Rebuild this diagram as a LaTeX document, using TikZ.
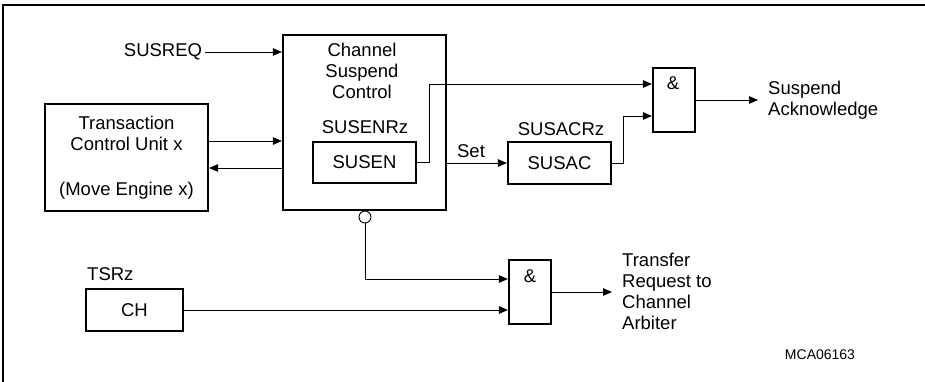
\documentclass[tikz,border=0pt]{standalone}
\usepackage{fontspec}
\setmainfont{Liberation Sans}
\usetikzlibrary{arrows.meta}
\begin{document}
\begin{tikzpicture}[x=1pt,y=-1pt,
  every node/.style={font=\fontsize{18.5}{21}\selectfont, inner sep=0pt},
  blk/.style={draw, line width=2.2pt, rectangle, inner sep=0pt},
  gate/.style={blk, minimum width=42pt, minimum height=64pt},
  wire/.style={line width=0.9pt},
  arr/.style={wire, -{Triangle[length=9pt,width=7.5pt]}},
  lbl/.style={align=left, anchor=west}]
\useasboundingbox (0,0) rectangle (925,382);
\draw[line width=1.2pt] (3,382) -- (3,5) -- (925,5);

\node (susreq) at (163,52) {SUSREQ};
\node[blk, minimum width=163pt, minimum height=175pt] (csc) at (364.5,122.5) {};
\node[align=center] (csctxt) at (362,71) {Channel\\Suspend\\Control};
\node (susenrz) at (365,127) {SUSENRz};
\node[blk, minimum width=103pt, minimum height=41pt] (susen) at (364.5,162.5) {SUSEN};
\node[blk, minimum width=163pt, minimum height=107pt, align=center] (tcu) at (126.5,157.5) {Transaction\\Control Unit x\\[24pt](Move Engine x)};
\node (susacrz) at (561,129) {SUSACRz};
\node[blk, minimum width=103pt, minimum height=42pt] (susac) at (559.5,163) {SUSAC};
\node[gate] (and1) at (674,100) {};
\node (and1l) at (673,83) {\&};
\node[lbl] (ack) at (768,100) {Suspend\\Acknowledge};
\node[draw, circle, minimum size=12pt, line width=0.9pt] (inv) at (365,217) {};
\node[anchor=west] (tsrz) at (87,274) {TSRz};
\node[blk, minimum width=97pt, minimum height=42pt] (ch) at (134.5,310) {CH};
\node[gate] (and2) at (530,292) {};
\node (and2l) at (530,276) {\&};
\node[lbl] (req) at (622,291.5) {Transfer\\Request to\\Channel\\Arbiter};
\node[font=\fontsize{14}{16}\selectfont] (mca) at (820,355) {MCA06163};

\draw[arr] ([xshift=3pt]susreq.east) -- (csc.west |- susreq.east);
\draw[arr] (tcu.east |- 0,141) -- (csc.west |- 0,141);
\draw[arr] (csc.west |- 0,168) -- (tcu.east |- 0,168);
\draw[arr] (susen.east) -| (429,84) -- (and1.west |- 0,84);
\draw[arr] (csc.east |- susac.west) -- (susac.west) node[pos=0.4, above=5pt] {Set};
\draw[arr] (susac.east) -| (623,116) -- (and1.west |- 0,116);
\draw[arr, shorten >=10pt] (and1.east) -- (ack.west);
\draw[arr] (inv.south) |- (and2.west |- 0,279);
\draw[arr] (ch.east) -- (ch.east -| and2.west);
\draw[arr, shorten >=10pt] (and2.east) -- (and2.east -| req.west);
\end{tikzpicture}
\end{document}
